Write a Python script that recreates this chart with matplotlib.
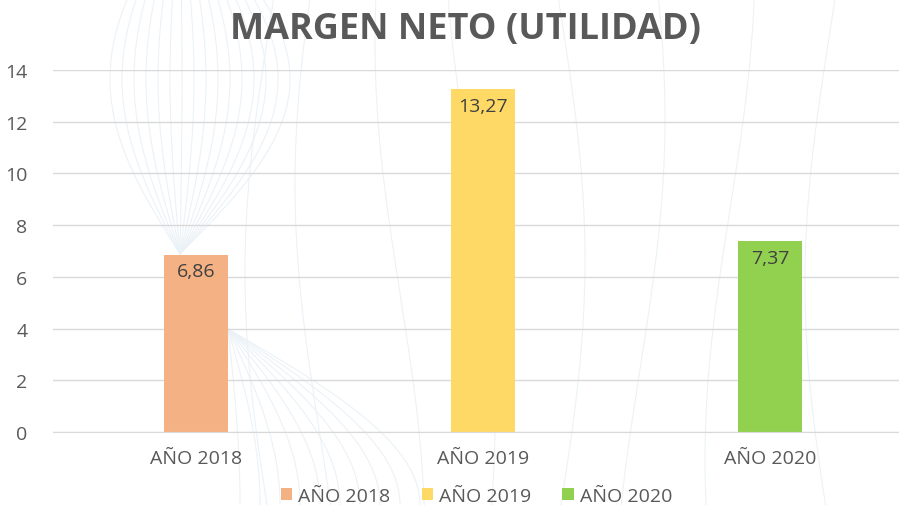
import matplotlib.pyplot as plt
import numpy as np

# === DATA ===
categories = ["AÑO 2018", "AÑO 2019", "AÑO 2020"]
values = [6.86, 13.27, 7.37]
labels = ["6,86", "13,27", "7,37"]
colors = ["#F4B183", "#FFD966", "#92D050"]
yticks = [0, 2, 4, 6, 8, 10, 12, 14]

plt.rcParams['font.family'] = ['Open Sans', 'DejaVu Sans']
text_color = "#595959"

W, H = 899, 506
fig = plt.figure(figsize=(W / 100, H / 100), dpi=100)

# faint decorative curves in background (pure decoration, pixel coords)
bg = fig.add_axes([0, 0, 1, 1], zorder=0)
bg.set_xlim(0, W)
bg.set_ylim(H, 0)
bg.axis('off')
line_col = "#EBF2F7"
yy = np.linspace(0, 255, 150)
for xk in np.linspace(110, 290, 16):
    s = np.sin(np.pi / 2 * (255 - yy) / 175)
    bg.plot(180 + (xk - 180) * s, yy, color=line_col, lw=0.8)
yy2 = np.linspace(330, H, 100)
for i, xk in enumerate(np.linspace(240, 420, 10)):
    u = (yy2 - 330) / (H - 330)
    bg.plot(228 + (xk - 228) * np.sin(np.pi / 2 * u), yy2, color=line_col, lw=0.8)
yy3 = np.linspace(0, H, 200)
for xk in [270, 320, 400, 470, 560, 640, 730, 830]:
    bg.plot(xk + 25 * np.sin(yy3 / 160 + xk / 90), yy3, color=line_col, lw=0.8)

ax = fig.add_axes([0.0584, 0.1443, 0.958, 0.7154], zorder=1)
ax.patch.set_alpha(0)

x = np.arange(len(categories))
bars = ax.bar(x, values, width=0.225, color=colors, label=categories, zorder=2)

for b, lab in zip(bars, labels):
    ax.text(b.get_x() + b.get_width() / 2, b.get_height() - 0.3, lab,
            ha='center', va='top', fontsize=14, color="#404040", zorder=3)

ax.set_ylim(0, 14)
ax.set_xlim(-0.5, len(categories) - 0.5)
ax.set_yticks(yticks)
ax.set_xticks(x)
ax.set_xticklabels(categories)
ax.tick_params(axis='both', length=0, labelsize=14, colors=text_color)
ax.tick_params(axis='y', pad=18)
ax.tick_params(axis='x', pad=12)
ax.grid(axis='y', color="#D9D9D9", lw=1, zorder=0)
for s in ['top', 'right', 'left']:
    ax.spines[s].set_visible(False)
ax.spines['bottom'].set_color("#D9D9D9")

fig.text(0.518, 0.94, "MARGEN NETO (UTILIDAD)", ha='center', va='center',
         fontsize=26, fontweight='bold', color=text_color)

leg = fig.legend(bars, categories, loc='center', bbox_to_anchor=(0.53, 0.018),
                 ncol=3, frameon=False, fontsize=14, handlelength=0.6,
                 handleheight=0.6, columnspacing=1.6, handletextpad=0.3)
for txt in leg.get_texts():
    txt.set_color(text_color)

fig.savefig("out.png", dpi=100)
